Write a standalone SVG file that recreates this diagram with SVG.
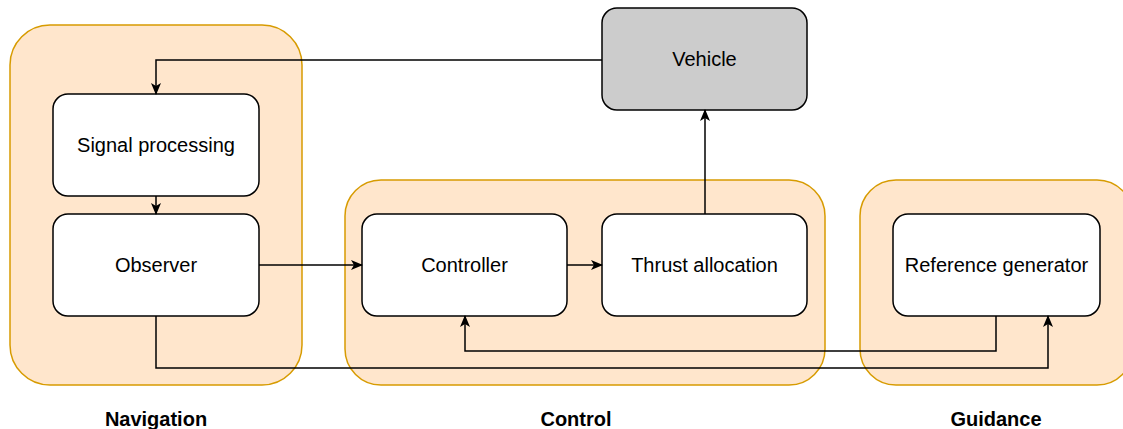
<svg xmlns="http://www.w3.org/2000/svg" width="1123" height="429" viewBox="0 0 1123 429">
  <style>
    .group { fill: #ffe6cc; stroke: #d79b00; stroke-width: 1.5; }
    .node { fill: #ffffff; stroke: #000000; stroke-width: 1.5; }
    .node.dark { fill: #cccccc; }
    .label { font-family: "Liberation Sans", Arial, Helvetica, sans-serif; font-size: 20px; fill: #000000; text-anchor: middle; }
    .title { font-family: "Liberation Sans", Arial, Helvetica, sans-serif; font-size: 20px; font-weight: bold; fill: #000000; text-anchor: middle; }
    .edge { fill: none; stroke: #000000; stroke-width: 1.5; }
  </style>
  <defs>
    <marker id="arrow" viewBox="0 0 12 10" refX="11" refY="5" markerWidth="12" markerHeight="10" markerUnits="userSpaceOnUse" orient="auto">
      <path d="M0,0 L12,5 L0,10 L3,5 Z" fill="#000000"/>
    </marker>
  </defs>

  <!-- subsystem containers -->
  <g id="navigation">
    <rect class="group" x="10" y="25" width="292" height="360" rx="40" ry="40"/>
    <text class="title" x="156" y="426">Navigation</text>
  </g>
  <g id="control">
    <rect class="group" x="345" y="180" width="480" height="205" rx="36" ry="36"/>
    <text class="title" x="576" y="426">Control</text>
  </g>
  <g id="guidance">
    <rect class="group" x="860" y="180" width="273" height="205" rx="36" ry="36"/>
    <text class="title" x="996" y="426">Guidance</text>
  </g>

  <!-- blocks -->
  <g id="vehicle">
    <rect class="node dark" x="602" y="8" width="205" height="102" rx="15" ry="15"/>
    <text class="label" x="704.5" y="66">Vehicle</text>
  </g>
  <g id="signal-processing">
    <rect class="node" x="53" y="94" width="206" height="102" rx="15" ry="15"/>
    <text class="label" x="156" y="152">Signal processing</text>
  </g>
  <g id="observer">
    <rect class="node" x="53" y="214" width="206" height="102" rx="15" ry="15"/>
    <text class="label" x="156" y="272">Observer</text>
  </g>
  <g id="controller">
    <rect class="node" x="362" y="214" width="205" height="102" rx="15" ry="15"/>
    <text class="label" x="464.5" y="272">Controller</text>
  </g>
  <g id="thrust-allocation">
    <rect class="node" x="602" y="214" width="205" height="102" rx="15" ry="15"/>
    <text class="label" x="704.5" y="272">Thrust allocation</text>
  </g>
  <g id="reference-generator">
    <rect class="node" x="893" y="214" width="207" height="102" rx="15" ry="15"/>
    <text class="label" x="996.5" y="272">Reference generator</text>
  </g>

  <!-- connectors -->
  <g id="connectors">
    <path class="edge" d="M602,60 L156,60 L156,94" marker-end="url(#arrow)"/>
    <path class="edge" d="M156,196 L156,214" marker-end="url(#arrow)"/>
    <path class="edge" d="M259,265 L362,265" marker-end="url(#arrow)"/>
    <path class="edge" d="M567,265 L602,265" marker-end="url(#arrow)"/>
    <path class="edge" d="M705,214 L705,110" marker-end="url(#arrow)"/>
    <path class="edge" d="M996,316 L996,351 L465,351 L465,316" marker-end="url(#arrow)"/>
    <path class="edge" d="M156,316 L156,368 L1048,368 L1048,316" marker-end="url(#arrow)"/>
  </g>
</svg>
